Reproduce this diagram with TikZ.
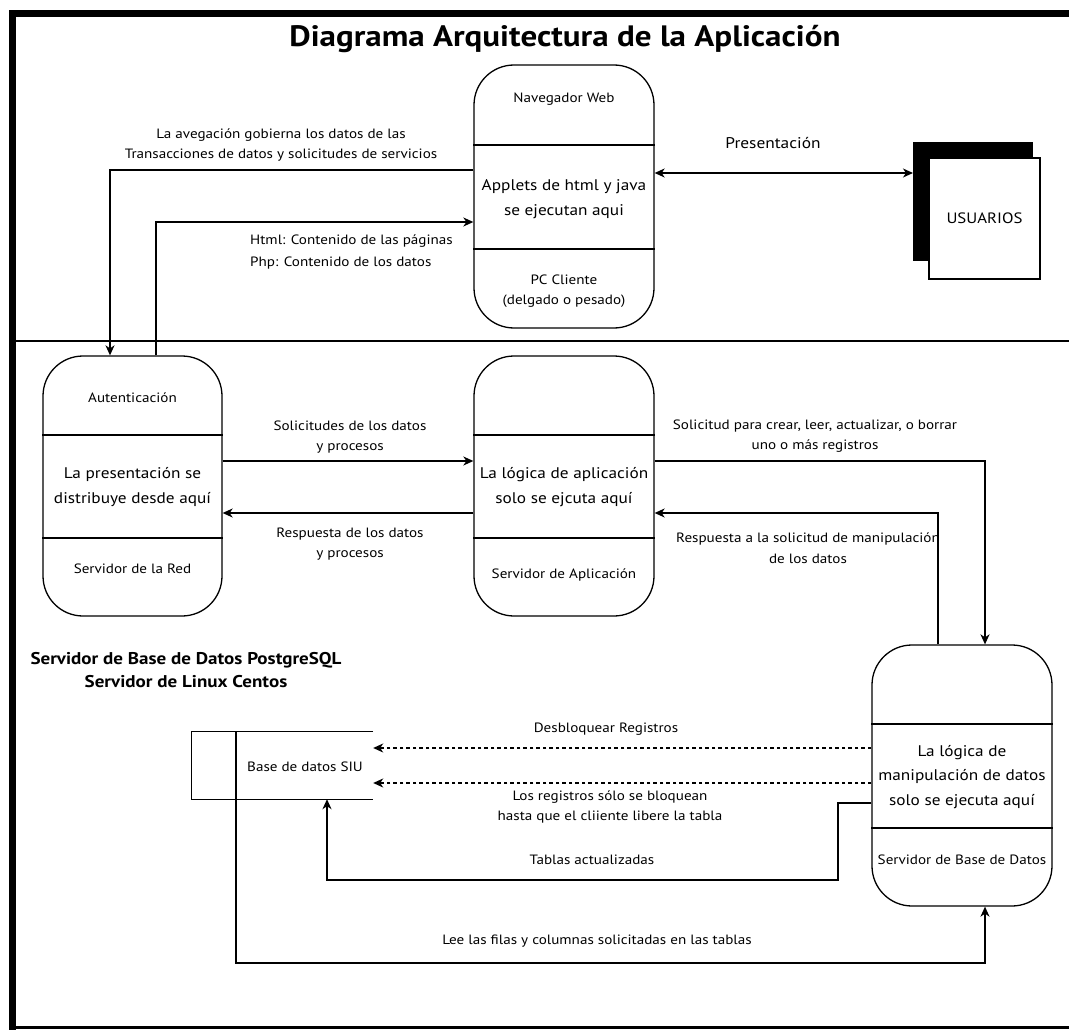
\documentclass[tikz,border=0pt]{standalone}
\usepackage{fontspec}
\setmainfont{PT Sans}[FakeStretch=1.12]
\usetikzlibrary{arrows.meta}

\begin{document}
\begin{tikzpicture}[x=1pt,y=-1pt,
  line/.style={line width=1.3pt},
  arr/.style={line width=1.3pt,-{Stealth[length=10pt,width=9pt,inset=3pt]}},
  darr/.style={line width=1.3pt,{Stealth[length=10pt,width=9pt,inset=3pt]}-{Stealth[length=10pt,width=9pt,inset=3pt]}},
  dotarr/.style={line width=1.3pt,dash pattern=on 3.5pt off 3pt,-{Stealth[length=10pt,width=9pt,inset=3pt]}},
  proc/.style={draw,line width=1.3pt,rounded corners=40pt,minimum width=180pt,minimum height=261pt,inner sep=0pt},
  lbl/.style={font=\fontsize{13.5}{20.5}\selectfont,align=center,inner sep=0pt},
  lbll/.style={font=\fontsize{13.5}{21.5}\selectfont,align=left,inner sep=0pt,anchor=west},
  big/.style={font=\fontsize{15.4}{24.5}\selectfont,align=center,inner sep=0pt},
  head/.style={font=\fontsize{17}{23}\selectfont\bfseries,align=center,inner sep=0pt},
]
% page
\useasboundingbox (0,0) rectangle (1069,1030);
\fill[white] (0,0) rectangle (1069,1030);

% outer frame and divider between client and server zones
\draw[line width=7pt,line join=miter] (12.5,1030) -- (12.5,13.5) -- (1069,13.5);
\draw[line width=3pt] (9,1027.5) -- (1069,1027.5);
\draw[line] (16,341) -- (1069,341);

\node[font=\fontsize{29.5}{34}\selectfont\bfseries,inner sep=0pt] (title) at (565,39) {Diagrama Arquitectura de la Aplicación};

% ---------- client ----------
\node[proc,minimum height=263pt] (nav) at (564,196.5) {};
\draw[line] (nav.west |- 0,145) -- (nav.east |- 0,145);
\draw[line] (nav.west |- 0,249) -- (nav.east |- 0,249);
\node[lbl] (navT) at (564,99) {Navegador Web};
\node[big] (navM) at (564,199) {Applets de html y java\\se ejecutan aqui};
\node[lbl] (navB) at (564,291) {PC Cliente\\(delgado o pesado)};

% users with shadow block
\fill[black] (913,142) rectangle (1033,261);
\node[draw,fill=white,line width=1.3pt,minimum width=111pt,minimum height=121pt,inner sep=0pt,font=\fontsize{15}{20}\selectfont] (users) at (984.5,218.5) {USUARIOS};

\coordinate (usersIn) at (913,173);
\draw[darr] (nav.east |- 0,173) -- (usersIn);
\node[font=\fontsize{15.5}{20}\selectfont,inner sep=0pt] (presL) at (773,143) {Presentación};

% ---------- server row ----------
\node[proc,minimum width=179pt,minimum height=260pt] (auth) at (132.5,486) {};
\draw[line] (auth.west |- 0,435) -- (auth.east |- 0,435);
\draw[line] (auth.west |- 0,538) -- (auth.east |- 0,538);
\node[lbl] (authT) at (132.5,398) {Autenticación};
\node[big] (authM) at (132.5,487) {La presentación se\\distribuye desde aquí};
\node[lbl] (authB) at (132.5,569) {Servidor de la Red};

\node[proc,minimum height=260pt] (app) at (564,486) {};
\draw[line] (app.west |- 0,435) -- (app.east |- 0,435);
\draw[line] (app.west |- 0,538) -- (app.east |- 0,538);
\node[big] (appM) at (564,487) {La lógica de aplicación\\solo se ejcuta aquí};
\node[lbl] (appB) at (564,575) {Servidor de Aplicación};

\node[proc] (db) at (962,775.5) {};
\draw[line] (db.west |- 0,724) -- (db.east |- 0,724);
\draw[line] (db.west |- 0,828) -- (db.east |- 0,828);
\node[big] (dbM) at (962,777) {La lógica de\\manipulación de datos\\solo se ejecuta aquí};
\node[lbl] (dbB) at (962,860) {Servidor de Base de Datos};

% client <-> web server
\draw[arr] (nav.west |- 0,170) -- (110,170) -- (auth.north -| 110,0);
\node[lbl] (navL1) at (281,145) {La avegación gobierna los datos de las\\Transacciones de datos y solicitudes de servicios};
\draw[arr] (auth.north -| 156,0) -- (156,222) -- (nav.west |- 0,222);
\node[lbll] (navL2) at (250,252) {Html: Contenido de las páginas\\Php: Contenido de los datos};

% web server <-> application server
\draw[arr] (auth.east |- 0,461) -- (app.west |- 0,461);
\node[lbl] (reqL) at (350,437) {Solicitudes de los datos\\y procesos};
\draw[arr] (app.west |- 0,513) -- (auth.east |- 0,513);
\node[lbl] (resL) at (350,544) {Respuesta de los datos\\y procesos};

% application server <-> database server
\draw[arr] (app.east |- 0,461) -- (985,461) -- (db.north -| 985,0);
\node[lbl] (crudL) at (815,436) {Solicitud para crear, leer, actualizar, o borrar\\uno o más registros};
\draw[arr] (db.north -| 938,0) -- (938,513) -- (app.east |- 0,513);
\node[lbl] (manL) at (808,548) {Respuesta a la solicitud de manipulación\\de los datos};

\node[head] (srvL) at (186,670) {Servidor de Base de Datos PostgreSQL\\Servidor de Linux Centos};

% ---------- data store ----------
\node[minimum width=181pt,minimum height=67pt,inner sep=0pt] (siu) at (282.5,765.5) {};
\draw[line] (siu.north east) -- (siu.north west) -- (siu.south west) -- (siu.south east);
\node[lbl] (siuT) at (305,767) {Base de datos SIU};

\draw[dotarr] (db.west |- 0,748) -- (siu.east |- 0,748);
\node[lbl] (unlockL) at (606,729) {Desbloquear Registros};
\draw[dotarr] (db.west |- 0,783) -- (siu.east |- 0,783);
\node[lbl] (lockL) at (610,807) {Los registros sólo se bloquean\\hasta que el cliiente libere la tabla};

\draw[arr] (db.west |- 0,803) -- (838,803) -- (838,880) -- (327,880) -- (siu.south -| 327,0);
\node[lbl] (updL) at (592,860) {Tablas actualizadas};

\draw[arr] (236,732) -- (236,963) -- (985,963) -- (db.south -| 985,0);
\node[lbl] (readL) at (597,941) {Lee las filas y columnas solicitadas en las tablas};

\end{tikzpicture}
\end{document}
